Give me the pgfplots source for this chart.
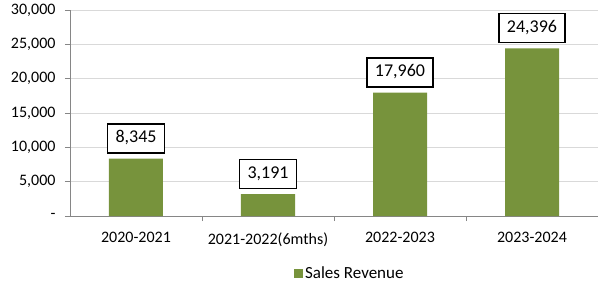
\documentclass[border=0pt]{standalone}
\usepackage{pgfplots}
\pgfplotsset{compat=1.18}
\usepackage{fontspec}
\setmainfont{Carlito}
\definecolor{barcol}{HTML}{77933C}
\definecolor{axgray}{HTML}{868686}
\definecolor{gridgray}{HTML}{D9D9D9}
\begin{document}
\begin{tikzpicture}[x=1pt,y=1pt]
\useasboundingbox (-70,-69) rectangle (530,216);
\begin{axis}[
  at={(0,0)}, anchor=south west,
  scale only axis, width=528pt, height=206pt,
  ybar, bar width=54pt,
  xmin=-0.5, xmax=3.5, ymin=0, ymax=30000,
  scaled y ticks=false,
  xtick={0,1,2,3},
  xticklabels={2020-2021,2021-2022(6mths),2022-2023,2023-2024},
  minor xtick={0.5,1.5,2.5},
  ytick={0,5000,10000,15000,20000,25000,30000},
  yticklabels={{-},{5,000},{10,000},{15,000},{20,000},{25,000},{30,000}},
  ymajorgrids, major grid style={gridgray, line width=0.8pt},
  axis x line*=bottom, axis y line*=left,
  axis line style={axgray, line width=0.8pt},
  x axis line style={-}, y axis line style={-},
  tick style={axgray, line width=0.8pt},
  tick align=outside,
  major x tick style={draw=none},
  minor tick length=5pt, major tick length=5pt,
  xticklabel style={font=\fontsize{16}{17}\selectfont, yshift=-8pt},
  yticklabel style={font=\fontsize{16}{17}\selectfont, xshift=-6pt},
  /pgf/number format/assume math mode=true,
  nodes near coords,
  nodes near coords style={draw=black, line width=1.5pt, fill=white, text=black,
     font=\fontsize{18}{19}\selectfont, inner xsep=8pt, inner ysep=7pt,
     text height=12pt, text depth=3pt,
     anchor=south, yshift=5pt, /pgf/number format/fixed, /pgf/number format/1000 sep={,}},
  legend style={at={(0.53,-0.277)}, anchor=center, draw=none, fill=none,
     font=\fontsize{17}{18}\selectfont},
  legend image code/.code={\fill[barcol] (0pt,-4.5pt) rectangle (9pt,4.5pt);},
  clip=false,
]
\addplot[fill=barcol, draw=none] coordinates {(0,8345) (1,3191) (2,17960) (3,24396)};
\legend{Sales Revenue}
\end{axis}
\end{tikzpicture}
\end{document}
